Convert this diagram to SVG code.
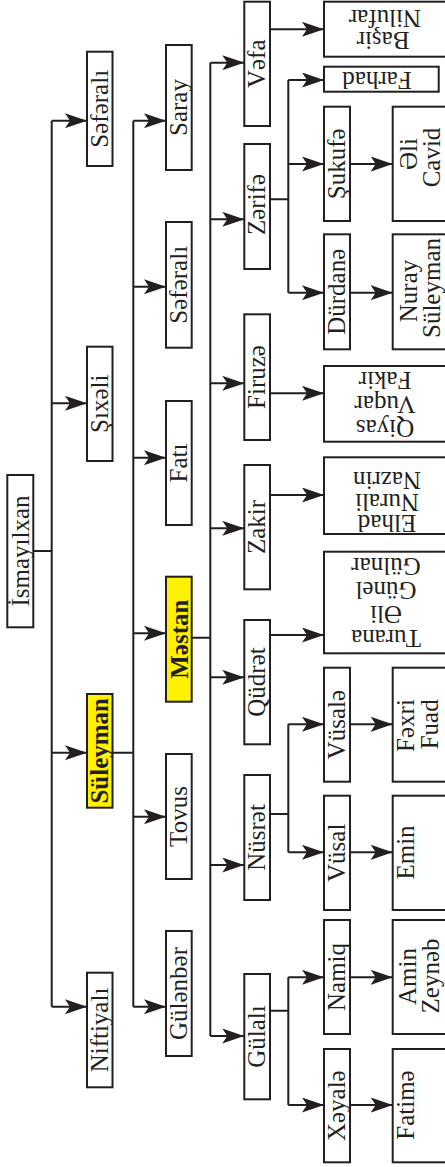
<svg xmlns="http://www.w3.org/2000/svg" width="445" height="1167" viewBox="0 0 445 1167">
<style>
.b{fill:#fff;stroke:#231f20;stroke-width:2}
.y{fill:#fff200;stroke:#231f20;stroke-width:2}
.t{font-family:"Liberation Serif","Times New Roman",serif;font-size:25px;fill:#231f20;text-anchor:middle}
.bd{font-weight:bold}
.c{fill:none;stroke:#231f20;stroke-width:2}
.a{fill:none;stroke:#231f20;stroke-width:2;marker-end:url(#ah)}
</style>
<defs>
<marker id="ah" markerUnits="userSpaceOnUse" markerWidth="22" markerHeight="15" refX="22" refY="7.5" orient="auto">
<path d="M0,0 L22,7.5 L0,15 L5,7.5 Z" fill="#231f20"/>
</marker>
</defs>
<rect width="445" height="1167" fill="#fff"/>
<g id="connectors">
<path class="c" d="M33.3,551 H51.7 M51.7,120.7 V1006.7"/>
<path class="a" d="M51.7,120.7 H87"/>
<path class="a" d="M51.7,403.3 H87"/>
<path class="a" d="M51.7,752.7 H87"/>
<path class="a" d="M51.7,1006.7 H87"/>
<path class="c" d="M112.5,752.7 H133.3 M133.3,120.7 V1006.7"/>
<path class="a" d="M133.3,120.7 H166"/>
<path class="a" d="M133.3,286.7 H166"/>
<path class="a" d="M133.3,457.7 H166"/>
<path class="a" d="M133.3,633.3 H166"/>
<path class="a" d="M133.3,816.7 H166"/>
<path class="a" d="M133.3,1006.7 H166"/>
<path class="c" d="M191.7,637.7 H210.3 M210.3,62.7 V1036"/>
<path class="a" d="M210.3,62.7 H244.3"/>
<path class="a" d="M210.3,219.3 H244.3"/>
<path class="a" d="M210.3,383.3 H244.3"/>
<path class="a" d="M210.3,528.3 H244.3"/>
<path class="a" d="M210.3,677.3 H244.3"/>
<path class="a" d="M210.3,865 H244.3"/>
<path class="a" d="M210.3,1036 H244.3"/>
<path class="a" d="M270,29.3 H324"/>
<path class="c" d="M270,199.3 H288.3 M288.3,80 V292.7"/>
<path class="a" d="M288.3,80 H324"/>
<path class="a" d="M288.3,164 H324"/>
<path class="a" d="M288.3,292.7 H324"/>
<path class="a" d="M270,393.3 H324"/>
<path class="a" d="M270,495 H324"/>
<path class="a" d="M270,635 H324"/>
<path class="c" d="M270,814 H288.3 M288.3,724.3 V852.3"/>
<path class="a" d="M288.3,724.3 H324"/>
<path class="a" d="M288.3,852.3 H324"/>
<path class="c" d="M270,1010.7 H288.3 M288.3,977.3 V1105"/>
<path class="a" d="M288.3,977.3 H324"/>
<path class="a" d="M288.3,1105 H324"/>
<path class="a" d="M350,164 H392.7"/>
<path class="a" d="M350,292.7 H392.7"/>
<path class="a" d="M350,724.3 H392.7"/>
<path class="a" d="M350,852.3 H392.7"/>
<path class="a" d="M350,977.3 H392.7"/>
<path class="a" d="M350,1105 H392.7"/>
</g>
<g id="ismayilxan"><rect class="b" x="7.3" y="475" width="26" height="152.3"/><text class="t" transform="translate(28.6,551) rotate(-90)">İsmayılxan</text></g>
<g id="seferali1"><rect class="b" x="87" y="51.7" width="25.5" height="114.3"/><text class="t" transform="translate(108,108.8) rotate(-90)">Səfəralı</text></g>
<g id="sixeli"><rect class="b" x="87" y="346.7" width="25.5" height="114.3"/><text class="t" transform="translate(108,403.8) rotate(-90)">Şıxəli</text></g>
<g id="suleyman"><rect class="y" x="87" y="694" width="25.5" height="113.7"/><text class="t bd" transform="translate(108,750.8) rotate(-90)">Süleyman</text></g>
<g id="niftiyali"><rect class="b" x="87" y="972.7" width="25.5" height="114.6"/><text class="t" transform="translate(108,1030) rotate(-90)">Niftiyalı</text></g>
<g id="saray"><rect class="b" x="166" y="45" width="25.7" height="125"/><text class="t" transform="translate(187,107.5) rotate(-90)">Saray</text></g>
<g id="seferali2"><rect class="b" x="166" y="222" width="25.7" height="125.7"/><text class="t" transform="translate(187,284.8) rotate(-90)">Səfəralı</text></g>
<g id="fati"><rect class="b" x="166" y="401" width="25.7" height="124"/><text class="t" transform="translate(187,463) rotate(-90)">Fatı</text></g>
<g id="mestan"><rect class="y" x="166" y="576.7" width="25.7" height="125"/><text class="t bd" transform="translate(187.5,639.2) rotate(-90)">Məstan</text></g>
<g id="tovus"><rect class="b" x="166" y="754" width="25.7" height="125"/><text class="t" transform="translate(187,816.5) rotate(-90)">Tovus</text></g>
<g id="gulenber"><rect class="b" x="166" y="931" width="25.7" height="125"/><text class="t" transform="translate(187,993.5) rotate(-90)">Gülənbər</text></g>
<g id="vefa"><rect class="b" x="244.3" y="1.7" width="25.7" height="124.3"/><text class="t" transform="translate(265,63.8) rotate(-90)">Vəfa</text></g>
<g id="zerife"><rect class="b" x="244.3" y="144" width="25.7" height="125"/><text class="t" transform="translate(265,204.5) rotate(-90)">Zərifə</text></g>
<g id="firuze"><rect class="b" x="244.3" y="314.3" width="25.7" height="125.7"/><text class="t" transform="translate(265,377) rotate(-90)">Firuzə</text></g>
<g id="zakir"><rect class="b" x="244.3" y="465" width="25.7" height="124.3"/><text class="t" transform="translate(265,527) rotate(-90)">Zakir</text></g>
<g id="qudret"><rect class="b" x="244.3" y="620" width="25.7" height="124.3"/><text class="t" transform="translate(265,682) rotate(-90)">Qüdrət</text></g>
<g id="nusret"><rect class="b" x="244.3" y="775" width="25.7" height="125"/><text class="t" transform="translate(265,837.5) rotate(-90)">Nüsrət</text></g>
<g id="gulali"><rect class="b" x="244.3" y="974" width="25.7" height="125.3"/><text class="t" transform="translate(265,1036.6) rotate(-90)">Gülalı</text></g>
<g id="basir"><rect class="b" x="324" y="1.7" width="125" height="55"/><text class="t" transform="translate(383,32) rotate(180)">Başir</text><text class="t" transform="translate(385,9.5) rotate(180)">Nilufar</text></g>
<g id="farhad"><rect class="b" x="324" y="66.7" width="114.7" height="25"/><text class="t" transform="translate(377,72) rotate(180)">Farhad</text></g>
<g id="sukufe"><rect class="b" x="324" y="106.7" width="26" height="114.3"/><text class="t" transform="translate(345.3,163.8) rotate(-90)">Şukufə</text></g>
<g id="elicavid"><rect class="b" x="392.7" y="106.7" width="56.3" height="114.3"/><text class="t" transform="translate(417,154) rotate(-90)">Əli</text><text class="t" transform="translate(440,157.5) rotate(-90)">Cavid</text></g>
<g id="durdane"><rect class="b" x="324" y="234.3" width="26" height="115"/><text class="t" transform="translate(345.3,291.8) rotate(-90)">Dürdanə</text></g>
<g id="nuray"><rect class="b" x="392.7" y="234.3" width="56.3" height="115"/><text class="t" transform="translate(417,291) rotate(-90)">Nuray</text><text class="t" transform="translate(440,288) rotate(-90)">Süleyman</text></g>
<g id="qiyas"><rect class="b" x="324" y="366" width="125" height="75.7"/><text class="t" transform="translate(385,420) rotate(180)">Qiyas</text><text class="t" transform="translate(385,396) rotate(180)">Vuqar</text><text class="t" transform="translate(385,372) rotate(180)">Fakir</text></g>
<g id="elhad"><rect class="b" x="324" y="457.3" width="125" height="76.7"/><text class="t" transform="translate(387,515) rotate(180)">Elhad</text><text class="t" transform="translate(387,493.5) rotate(180)">Nurali</text><text class="t" transform="translate(387,472) rotate(180)">Nazrin</text></g>
<g id="turana"><rect class="b" x="324" y="551.7" width="125" height="101.6"/><text class="t" transform="translate(386,630) rotate(180)">Turana</text><text class="t" transform="translate(386,606) rotate(180)">Əli</text><text class="t" transform="translate(386,582) rotate(180)">Günel</text><text class="t" transform="translate(386,558) rotate(180)">Gülnar</text></g>
<g id="vusale"><rect class="b" x="324" y="667.7" width="26" height="114"/><text class="t" transform="translate(345.3,724.7) rotate(-90)">Vüsalə</text></g>
<g id="fexri"><rect class="b" x="392.7" y="667.7" width="56.3" height="114"/><text class="t" transform="translate(414,725.5) rotate(-90)">Fəxri</text><text class="t" transform="translate(438,724.3) rotate(-90)">Fuad</text></g>
<g id="vusal"><rect class="b" x="324" y="795.7" width="26" height="114.3"/><text class="t" transform="translate(345.3,852.8) rotate(-90)">Vüsal</text></g>
<g id="emin"><rect class="b" x="392.7" y="795.7" width="56.3" height="114.3"/><text class="t" transform="translate(414,852.5) rotate(-90)">Emin</text></g>
<g id="namiq"><rect class="b" x="324" y="920" width="26" height="114"/><text class="t" transform="translate(345.3,977) rotate(-90)">Namiq</text></g>
<g id="aminzeyneb"><rect class="b" x="392.7" y="920" width="56.3" height="114"/><text class="t" transform="translate(416,976.5) rotate(-90)">Amin</text><text class="t" transform="translate(439,976) rotate(-90)">Zeynəb</text></g>
<g id="xeyale"><rect class="b" x="324" y="1049" width="26" height="113.3"/><text class="t" transform="translate(345.3,1105.7) rotate(-90)">Xəyalə</text></g>
<g id="fatime"><rect class="b" x="392.7" y="1049" width="56.3" height="113.3"/><text class="t" transform="translate(414,1105) rotate(-90)">Fatimə</text></g>
</svg>
